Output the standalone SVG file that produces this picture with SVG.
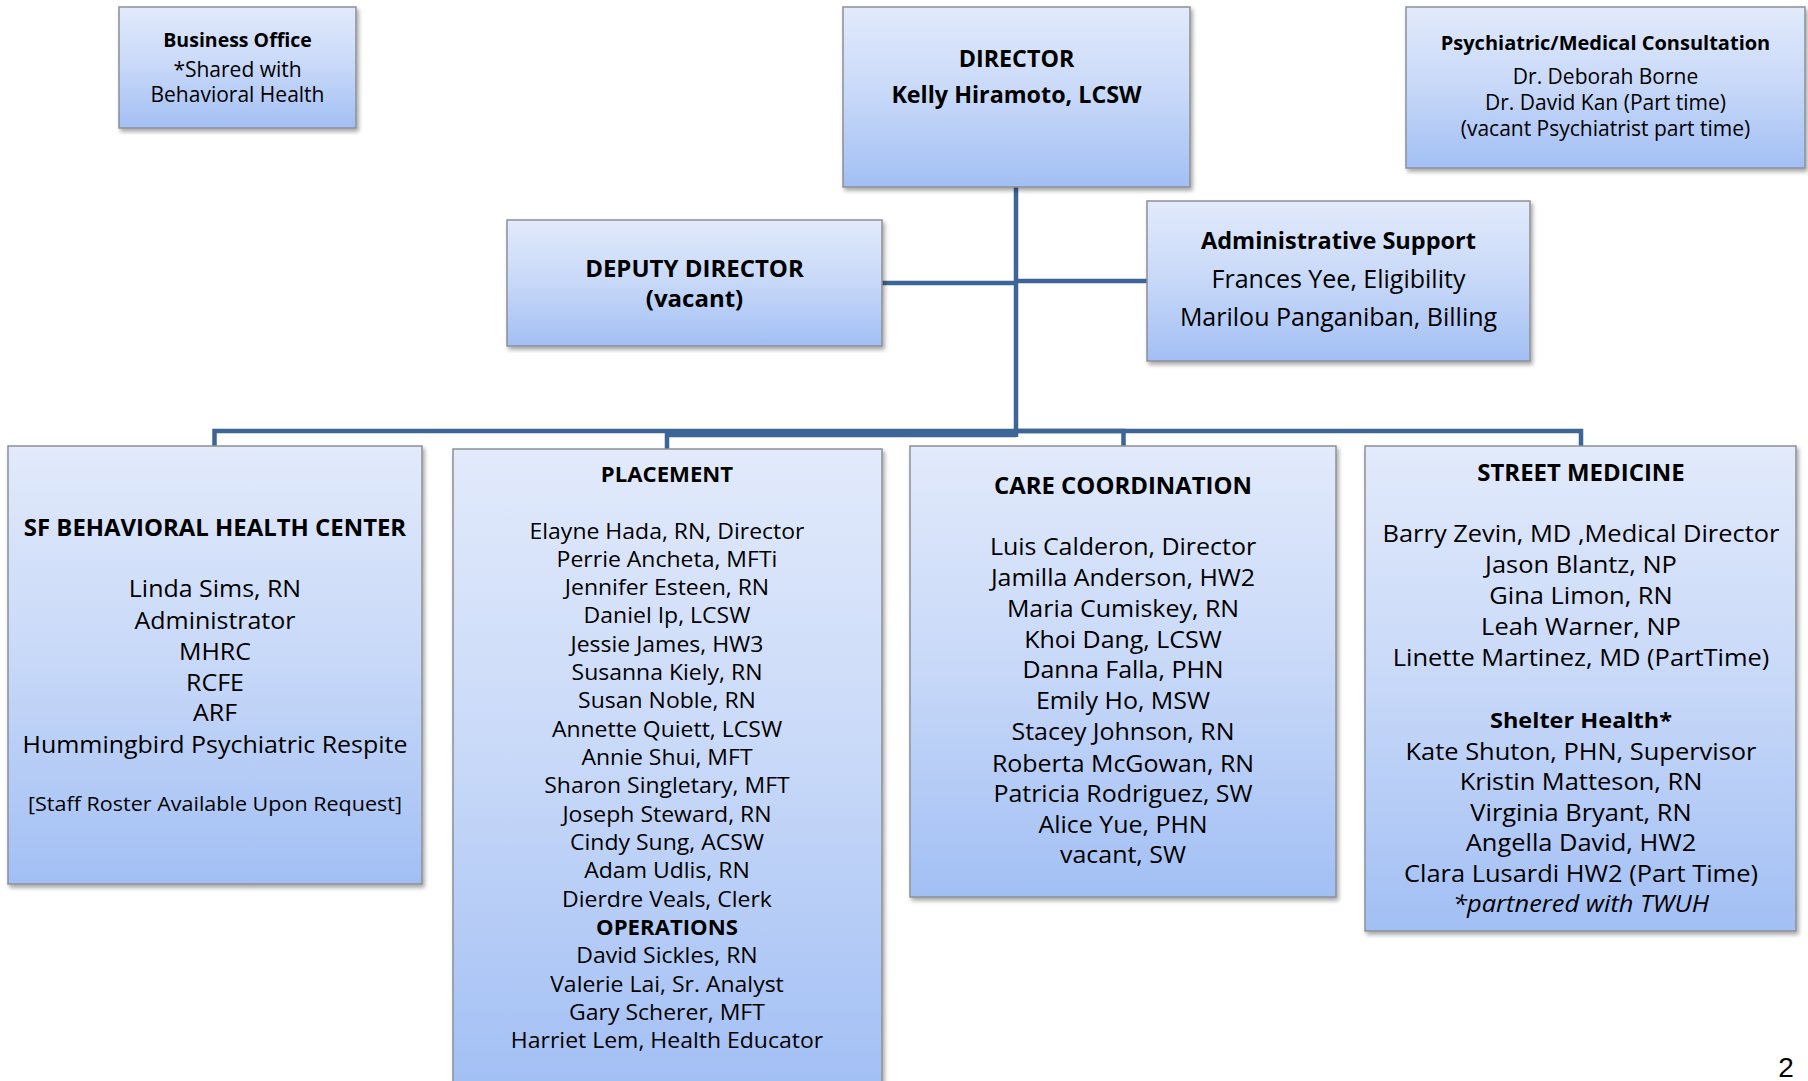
<svg xmlns="http://www.w3.org/2000/svg" width="1808" height="1081" viewBox="0 0 1808 1081">
<defs>
<linearGradient id="g" x1="0" y1="0" x2="0" y2="1">
<stop offset="0" stop-color="#E2EAFB"/>
<stop offset="0.5" stop-color="#C7D8F8"/>
<stop offset="1" stop-color="#A2BFF4"/>
</linearGradient>
<filter id="sh" x="-5%" y="-5%" width="110%" height="110%">
<feDropShadow dx="2" dy="3" stdDeviation="2" flood-color="#000" flood-opacity="0.35"/>
</filter>
<style>
.box{fill:url(#g);stroke:#8C9096;stroke-width:1.5;filter:url(#sh)}
.conn{fill:none;stroke:#3E6597;stroke-width:4.5}
text{font-family:'Open Sans','Noto Sans','Liberation Sans',sans-serif;text-anchor:middle;fill:#000}
.b{font-weight:bold}
.i{font-style:italic}
</style>
</defs>
<rect width="1808" height="1081" fill="#fff"/>

<g id="connectors">
<line class="conn" x1="1016" y1="187" x2="1016" y2="437"/>
<path class="conn" d="M882 283 H1016"/>
<path class="conn" d="M1016 281 H1147"/>
<path class="conn" d="M1016 431 H214.5 V446"/>
<path class="conn" d="M1016 435 H667 V450"/>
<path class="conn" d="M1016 431 H1123.5 V446"/>
<path class="conn" d="M1016 431 H1581 V446"/>
</g>

<g id="business-office">
<rect class="box" x="119" y="7" width="237" height="121"/>
<text class="b" x="237.5" y="47" font-size="19.5">Business Office</text>
<text x="237.5" y="77" font-size="21">*Shared with</text>
<text x="237.5" y="102" font-size="21">Behavioral Health</text>
</g>

<g id="director">
<rect class="box" x="843" y="7" width="347" height="180"/>
<text class="b" x="1016.5" y="67" font-size="23.3">DIRECTOR</text>
<text class="b" x="1016.5" y="103" font-size="23.3">Kelly Hiramoto, LCSW</text>
</g>

<g id="psychiatric-consultation">
<rect class="box" x="1406" y="7" width="399" height="161"/>
<text class="b" x="1605.5" y="50" font-size="20">Psychiatric/Medical Consultation</text>
<text x="1605.5" y="84" font-size="21">Dr. Deborah Borne</text>
<text x="1605.5" y="110" font-size="21">Dr. David Kan (Part time)</text>
<text x="1605.5" y="136" font-size="21">(vacant Psychiatrist part time)</text>
</g>

<g id="deputy-director">
<rect class="box" x="507" y="220" width="375" height="126"/>
<text class="b" x="694.5" y="277" font-size="24">DEPUTY DIRECTOR</text>
<text class="b" x="694.5" y="307" font-size="24">(vacant)</text>
</g>

<g id="administrative-support">
<rect class="box" x="1147" y="201" width="383" height="160"/>
<text class="b" x="1338.5" y="249" font-size="23.5">Administrative Support</text>
<text x="1338.5" y="288" font-size="25">Frances Yee, Eligibility</text>
<text x="1338.5" y="326" font-size="25">Marilou Panganiban, Billing</text>
</g>

<g id="sf-behavioral-health-center">
<rect class="box" x="8" y="446" width="414" height="438"/>
<g transform="translate(215 0) scale(1.04 1) translate(-215 0)">
<text class="b" x="215" y="536" font-size="23">SF BEHAVIORAL HEALTH CENTER</text>
<text x="215" y="597" font-size="24">Linda Sims, RN</text>
<text x="215" y="629" font-size="24">Administrator</text>
<text x="215" y="660" font-size="24">MHRC</text>
<text x="215" y="691" font-size="24">RCFE</text>
<text x="215" y="721" font-size="24">ARF</text>
<text x="215" y="753" font-size="24">Hummingbird Psychiatric Respite</text>
<text x="215" y="811" font-size="20.7">[Staff Roster Available Upon Request]</text>
</g>
</g>

<g id="placement">
<rect class="box" x="453" y="449" width="429" height="640"/>
<g transform="translate(667 0) scale(1.045 1) translate(-667 0)">
<text class="b" x="667" y="482" font-size="21.2">PLACEMENT</text>
<text x="667" y="539" font-size="22">Elayne Hada, RN, Director</text>
<text x="667" y="567" font-size="22">Perrie Ancheta, MFTi</text>
<text x="667" y="595" font-size="22">Jennifer Esteen, RN</text>
<text x="667" y="623" font-size="22">Daniel Ip, LCSW</text>
<text x="667" y="652" font-size="22">Jessie James, HW3</text>
<text x="667" y="680" font-size="22">Susanna Kiely, RN</text>
<text x="667" y="708" font-size="22">Susan Noble, RN</text>
<text x="667" y="737" font-size="22">Annette Quiett, LCSW</text>
<text x="667" y="765" font-size="22">Annie Shui, MFT</text>
<text x="667" y="793" font-size="22">Sharon Singletary, MFT</text>
<text x="667" y="822" font-size="22">Joseph Steward, RN</text>
<text x="667" y="850" font-size="22">Cindy Sung, ACSW</text>
<text x="667" y="878" font-size="22">Adam Udlis, RN</text>
<text x="667" y="907" font-size="22">Dierdre Veals, Clerk</text>
<text class="b" x="667" y="935" font-size="21.2">OPERATIONS</text>
<text x="667" y="963" font-size="22">David Sickles, RN</text>
<text x="667" y="992" font-size="22">Valerie Lai, Sr. Analyst</text>
<text x="667" y="1020" font-size="22">Gary Scherer, MFT</text>
<text x="667" y="1048" font-size="22">Harriet Lem, Health Educator</text>
</g>
</g>

<g id="care-coordination">
<rect class="box" x="910" y="446" width="426" height="451"/>
<g transform="translate(1123 0) scale(1.04 1) translate(-1123 0)">
<text class="b" x="1123" y="494" font-size="23">CARE COORDINATION</text>
<text x="1123" y="555" font-size="24">Luis Calderon, Director</text>
<text x="1123" y="586" font-size="24">Jamilla Anderson, HW2</text>
<text x="1123" y="617" font-size="24">Maria Cumiskey, RN</text>
<text x="1123" y="648" font-size="24">Khoi Dang, LCSW</text>
<text x="1123" y="678" font-size="24">Danna Falla, PHN</text>
<text x="1123" y="709" font-size="24">Emily Ho, MSW</text>
<text x="1123" y="740" font-size="24">Stacey Johnson, RN</text>
<text x="1123" y="772" font-size="24">Roberta McGowan, RN</text>
<text x="1123" y="802" font-size="24">Patricia Rodriguez, SW</text>
<text x="1123" y="833" font-size="24">Alice Yue, PHN</text>
<text x="1123" y="863" font-size="24">vacant, SW</text>
</g>
</g>

<g id="street-medicine">
<rect class="box" x="1365" y="446" width="431" height="485"/>
<g transform="translate(1581 0) scale(1.06 1) translate(-1581 0)">
<text class="b" x="1581" y="481" font-size="22.6">STREET MEDICINE</text>
<text x="1581" y="542" font-size="24">Barry Zevin, MD ,Medical Director</text>
<text x="1581" y="573" font-size="24">Jason Blantz, NP</text>
<text x="1581" y="604" font-size="24">Gina Limon, RN</text>
<text x="1581" y="635" font-size="24">Leah Warner, NP</text>
<text x="1581" y="666" font-size="24">Linette Martinez, MD (PartTime)</text>
<text class="b" x="1581" y="728" font-size="22.2">Shelter Health*</text>
<text x="1581" y="760" font-size="24">Kate Shuton, PHN, Supervisor</text>
<text x="1581" y="790" font-size="24">Kristin Matteson, RN</text>
<text x="1581" y="821" font-size="24">Virginia Bryant, RN</text>
<text x="1581" y="851" font-size="24">Angella David, HW2</text>
<text x="1581" y="882" font-size="24">Clara Lusardi HW2 (Part Time)</text>
<text class="i" x="1581" y="912" font-size="24">*partnered with TWUH</text>
</g>
</g>

<text x="1786" y="1077" font-size="28" style="font-family:'Liberation Sans',Arial,sans-serif" fill="#222">2</text>
</svg>
